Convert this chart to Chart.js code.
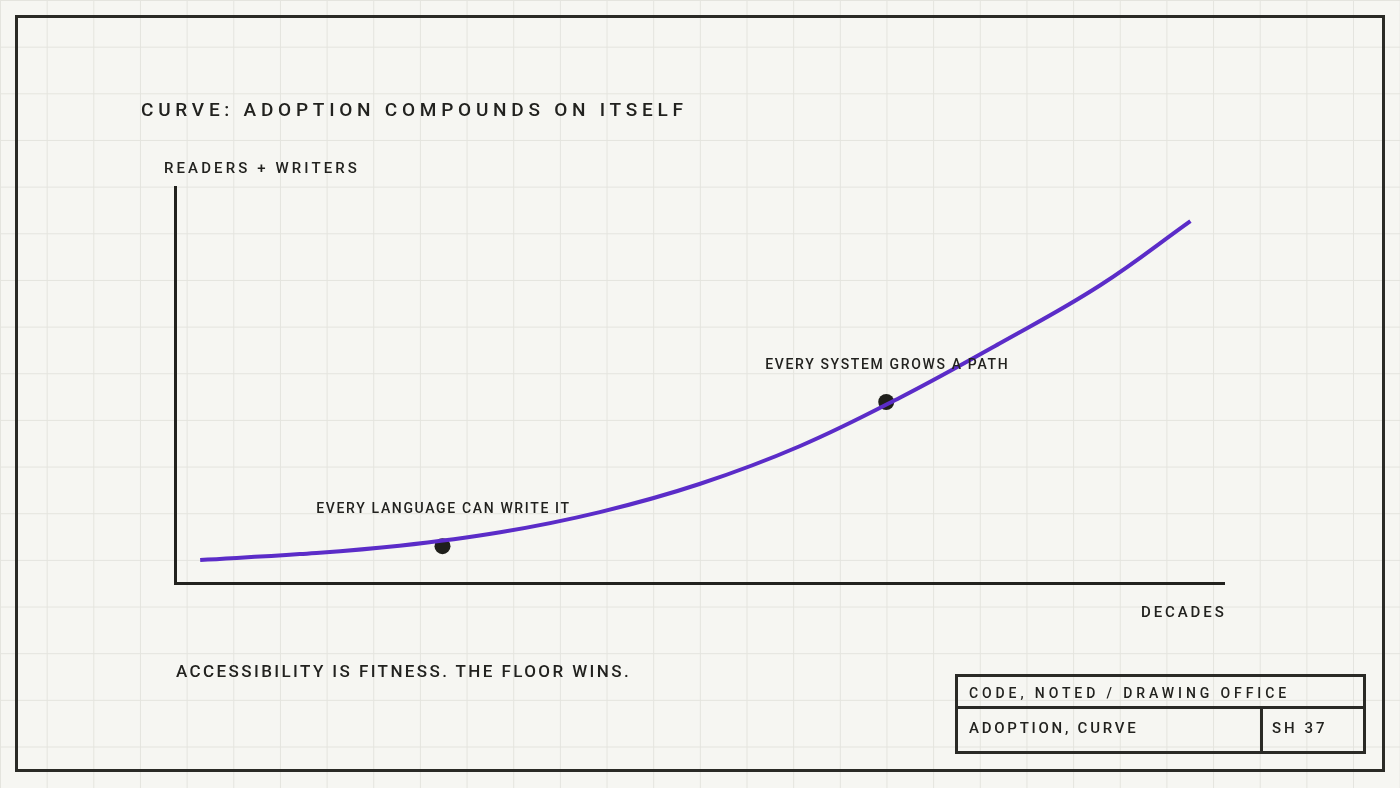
<!DOCTYPE html>
<html>
<head>
<meta charset="utf-8">
<script src="https://cdn.jsdelivr.net/npm/chart.js@4"></script>
<style>
  html, body { margin: 0; padding: 0; }
  body {
    width: 1400px; height: 788px; position: relative; overflow: hidden;
    background-color: #f6f6f2;
    background-image:
      linear-gradient(to right, #e4e4de 1px, transparent 1px),
      linear-gradient(to bottom, #e4e4de 1px, transparent 1px);
    background-size: 46.667px 46.667px;
    font-family: Roboto, "DejaVu Sans", sans-serif;
    color: #22221f;
  }
  #frame {
    position: absolute; left: 15px; top: 15px; width: 1370px; height: 757px;
    box-sizing: border-box; border: 3px solid #2a2a26;
  }
  #chart { position: absolute; left: 0; top: 0; }
  .txt { position: absolute; white-space: nowrap; font-weight: 500; line-height: 1; }
  #title { left: 141px; top: 100px; font-size: 19px; letter-spacing: 4.75px; }
  #note { left: 176px; top: 663px; font-size: 17px; letter-spacing: 2.4px; }
  #block {
    position: absolute; left: 955px; top: 674px; width: 411px; height: 80px;
    box-sizing: border-box; border: 3px solid #2a2a26;
  }
  #block .row1 {
    position: absolute; left: 0; top: 0; right: 0; height: 32px;
    box-sizing: border-box; border-bottom: 3px solid #2a2a26;
  }
  #block .cellA { position: absolute; left: 0; top: 29px; width: 305px; bottom: 0; box-sizing: border-box; border-right: 3px solid #2a2a26; }
  #block .t1 { left: 11px; top: 9px; font-size: 14px; letter-spacing: 3.9px; }
  #block .t2 { left: 11px; top: 15px; font-size: 15px; letter-spacing: 2.75px; }
  #block .t3 { left: 314px; top: 44px; font-size: 15px; letter-spacing: 3px; }
</style>
</head>
<body>
<div id="frame"></div>
<canvas id="chart" width="1400" height="788"></canvas>
<div id="title" class="txt">CURVE: ADOPTION COMPOUNDS ON ITSELF</div>
<div id="note" class="txt">ACCESSIBILITY IS FITNESS. THE FLOOR WINS.</div>
<div id="block">
  <div class="row1"><div class="txt t1">CODE, NOTED / DRAWING OFFICE</div></div>
  <div class="cellA"><div class="txt t2">ADOPTION, CURVE</div></div>
  <div class="txt t3">SH 37</div>
</div>
<script>
// curve (x: share of the time axis, y: share of the height)
const curveDecades = [2.4, 11.9, 21.4, 31, 40.5, 50, 59.6, 69.1, 78.6, 88.2, 96.8];
const curveAdoption = [5.8, 7.3, 9.4, 12.8, 17.9, 25.0, 34.6, 46.8, 60.5, 75.2, 91.4];

const markerDecades = [25.5, 67.8];
const markerAdoption = [9.3, 45.7];
const markerLabels = ['EVERY LANGUAGE CAN WRITE IT', 'EVERY SYSTEM GROWS A PATH'];

const yAxisLabel = 'READERS + WRITERS';
const xAxisLabel = 'DECADES';

const ink = '#22221f';

// axis captions + marker captions, drawn with letter spacing
const captions = {
    id: 'captions',
    afterDatasetsDraw(chart) {
        const ctx = chart.ctx;
        const area = chart.chartArea;
        ctx.save();
        ctx.fillStyle = ink;
        ctx.textBaseline = 'middle';
        ctx.textAlign = 'left';
        ctx.font = '500 15px Roboto';

        ctx.letterSpacing = '3.1px';
        ctx.fillText(yAxisLabel, area.left - 11, area.top - 18);
        ctx.letterSpacing = '2.9px';
        ctx.fillText(xAxisLabel, area.right - 83, area.bottom + 30);

        ctx.font = '500 14px Roboto';
        ctx.letterSpacing = '1.65px';
        ctx.textAlign = 'center';
        const meta = chart.getDatasetMeta(1);
        meta.data.forEach((pt, i) => {
            ctx.fillText(markerLabels[i], pt.x + 1, pt.y - 37);
        });
        ctx.restore();
    }
};

const ctx = document.getElementById('chart').getContext('2d');
new Chart(ctx, {
    type: 'line',
    data: {
        datasets: [
            {
                data: curveDecades.map((x, i) => ({ x: x, y: curveAdoption[i] })),
                borderColor: '#5b2cc8',
                borderWidth: 4,
                pointRadius: 0,
                tension: 0.4,
                fill: false
            },
            {
                type: 'scatter',
                data: markerDecades.map((x, i) => ({ x: x, y: markerAdoption[i] })),
                backgroundColor: '#1f1f1b',
                borderWidth: 0,
                pointRadius: 8
            }
        ]
    },
    options: {
        responsive: false,
        animation: false,
        devicePixelRatio: 1,
        events: [],
        layout: { padding: { left: 175, top: 187, right: 176, bottom: 205 } },
        scales: {
            x: {
                type: 'linear', min: 0, max: 100,
                grid: { display: false, drawTicks: false },
                ticks: { display: false },
                border: { display: true, color: '#22221e', width: 3 }
            },
            y: {
                type: 'linear', min: 0, max: 100,
                grid: { display: false, drawTicks: false },
                ticks: { display: false },
                border: { display: true, color: '#22221e', width: 3 }
            }
        },
        plugins: {
            legend: { display: false },
            tooltip: { enabled: false },
            title: { display: false }
        }
    },
    plugins: [captions]
});
</script>
</body>
</html>
